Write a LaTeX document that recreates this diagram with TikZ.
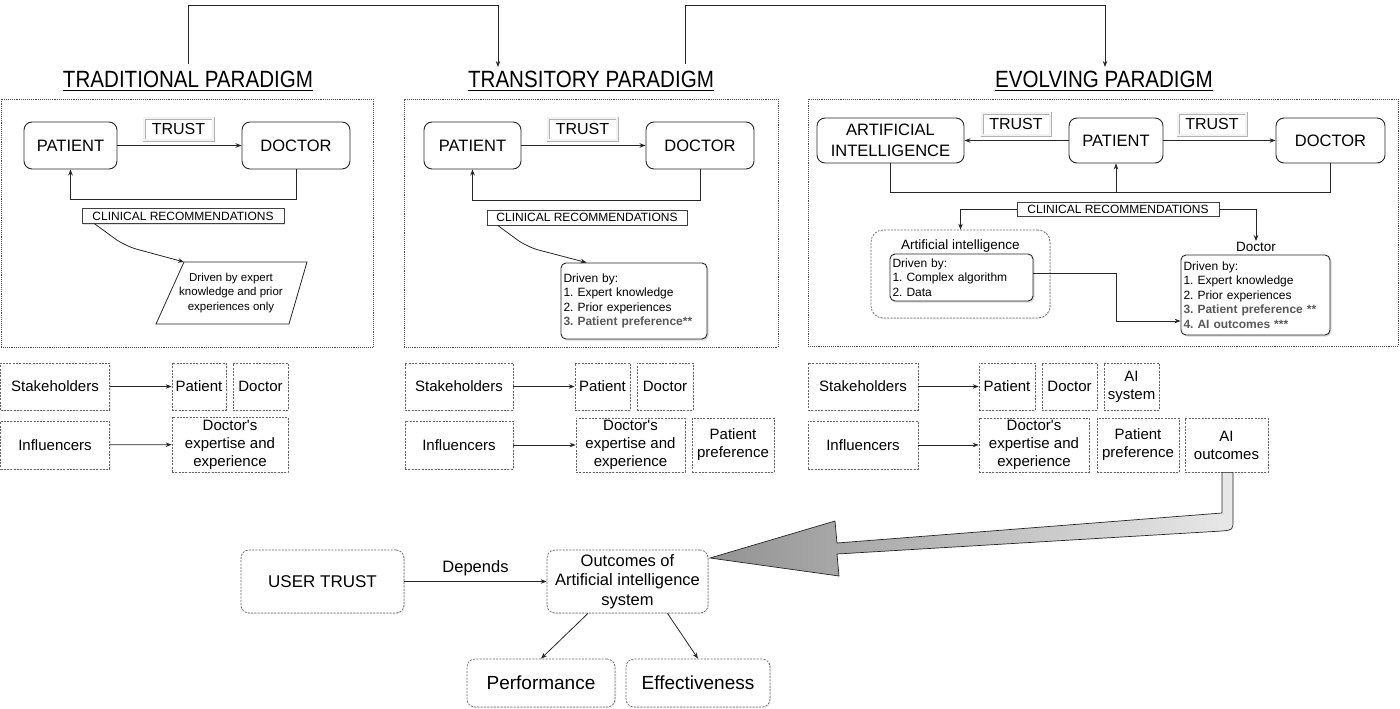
\documentclass[tikz,border=0pt]{standalone}
\usepackage{fontspec}
\setmainfont{Liberation Sans}
\usetikzlibrary{arrows.meta,shadows,calc,shapes.geometric}
\frenchspacing
\newcommand{\apos}{\textquotesingle}
\begin{document}
\begin{tikzpicture}[x=1pt,y=-1pt,
  frame/.style={draw=black!70, densely dotted, line width=0.9pt, inner sep=0pt},
  rbox/.style={draw=black!85, line width=0.9pt, rounded corners=8pt, fill=white, inner sep=0pt, font=\fontsize{16.5}{19}\selectfont, align=center},
  trustbox/.style={draw=gray!60, double=gray!10, double distance=1.2pt, line width=0.9pt, fill=white, inner sep=0pt, font=\fontsize{16}{18}\selectfont, minimum width=68pt, minimum height=22pt},
  crbox/.style={draw=black!75, line width=0.7pt, fill=white, inner sep=0pt, font=\fontsize{12}{14}\selectfont, minimum height=15pt, drop shadow={shadow xshift=1pt, shadow yshift=-1pt, opacity=0.25}},
  dbox/.style={draw=black!60, dash pattern=on 2pt off 1.3pt, line width=0.7pt, inner sep=0pt, fill=white, font=\fontsize{15}{18}\selectfont, align=center, minimum height=47pt, drop shadow={shadow xshift=1pt, shadow yshift=-1pt, opacity=0.18}},
  dround/.style={dbox, rounded corners=8pt},
  drvbox/.style={draw=black!85, line width=0.9pt, rounded corners=5pt, fill=white, inner xsep=2.5pt, inner ysep=0pt, align=left, font=\fontsize{12}{14.5}\selectfont, drop shadow={shadow xshift=1.5pt, shadow yshift=-1.5pt, opacity=0.3}},
  conn/.style={draw=black!85, line width=0.8pt, -{Stealth[length=6pt,width=4.5pt]}},
  plain/.style={draw=black!85, line width=0.8pt},
  title/.style={inner sep=0pt, font=\fontsize{21}{24}\selectfont},
  lab/.style={inner sep=1pt, font=\fontsize{13.5}{16}\selectfont}
]
\useasboundingbox (0,0) rectangle (1400,709);

% ---------- titles and top connectors ----------
\node[title, anchor=base] (t1) at (188,88) {\scalebox{0.98}[1.12]{\underline{TRADITIONAL PARADIGM}}};
\node[title, anchor=base] (t2) at (591,88) {\scalebox{0.98}[1.12]{\underline{TRANSITORY PARADIGM}}};
\node[title, anchor=base] (t3) at (1104,88) {\scalebox{0.98}[1.12]{\underline{EVOLVING PARADIGM}}};
\coordinate (a1) at (188,64);
\coordinate (a2) at (498,67);
\coordinate (a3) at (685,64);
\coordinate (a4) at (1105,67);
\draw[conn] (a1) -- ++(0,-59) -| (a2);
\draw[conn] (a3) -- ++(0,-59) -| (a4);

% ---------- frames ----------
\node[frame, minimum width=372pt, minimum height=248pt] (f1) at (187,223) {};
\node[frame, minimum width=374pt, minimum height=248pt] (f2) at (591,223) {};
\node[frame, minimum width=590pt, minimum height=247pt] (f3) at (1103,222.5) {};

% ---------- panel 1 ----------
\node[rbox, minimum width=93pt, minimum height=47pt] (p1pat) at (70.5,145.5) {PATIENT};
\node[rbox, minimum width=108pt, minimum height=47pt] (p1doc) at (296,145.5) {DOCTOR};
\node[trustbox, minimum width=69pt] (p1trust) at (178.5,129) {TRUST};
\draw[conn] (p1pat) -- (p1doc);
\draw[conn] (p1doc.south) -- ++(0,30) -| (p1pat.south);
\node[crbox, minimum width=202pt] (p1cr) at (183,216) {CLINICAL RECOMMENDATIONS};
\coordinate (p1tl) at (184,262);
\draw[plain, fill=white] (p1tl) -- (307,262) -- (289,324) -- (156,324) -- cycle;
\node[align=center, inner sep=0pt, font=\fontsize{11.5}{14.5}\selectfont] (p1drv) at (231,293) {Driven by expert\\knowledge and prior\\experiences only};
\draw[conn, rounded corners=12pt] ($(p1cr.south west)+(13,0)$) -- (125,246) -- (p1tl);

% ---------- panel 2 ----------
\node[rbox, minimum width=97pt, minimum height=47pt] (p2pat) at (472.5,145.5) {PATIENT};
\node[rbox, minimum width=108pt, minimum height=47pt] (p2doc) at (700,145.5) {DOCTOR};
\node[trustbox, minimum width=69pt] (p2trust) at (582.5,129) {TRUST};
\draw[conn] (p2pat) -- (p2doc);
\draw[conn] (p2doc.south) -- ++(0,31) -| (p2pat.south);
\node[crbox, minimum width=200pt] (p2cr) at (587,217.5) {CLINICAL RECOMMENDATIONS};
\node[drvbox, text width=141pt, minimum height=76pt] (p2drv) at (634,301) {Driven by:\\1. Expert knowledge\\2. Prior experiences\\\textcolor{black!65}{\bfseries 3. Patient preference**}};
\draw[conn, rounded corners=12pt] ($(p2cr.south west)+(11,0)$) -- (527,247) -- ($(p2drv.north west)+(26,0)$);

% ---------- panel 3 ----------
\node[rbox, minimum width=147pt, minimum height=45pt, font=\fontsize{16.5}{21}\selectfont] (p3ai) at (890.5,140.5) {ARTIFICIAL\\INTELLIGENCE};
\node[rbox, minimum width=94pt, minimum height=45pt] (p3pat) at (1116,140.5) {PATIENT};
\node[rbox, minimum width=109pt, minimum height=45pt] (p3doc) at (1330.5,140.5) {DOCTOR};
\node[trustbox] (p3trustL) at (1016,124) {TRUST};
\node[trustbox] (p3trustR) at (1212,124) {TRUST};
\draw[conn] (p3pat) -- (p3ai);
\draw[conn] (p3pat) -- (p3doc);
\coordinate (fb3) at (0,192);
\draw[plain] (p3ai.south) |- (p3doc.south |- fb3) -- (p3doc.south);
\draw[conn] (p3pat.south |- fb3) -- (p3pat.south);
\node[crbox, minimum width=202pt, minimum height=14pt] (p3cr) at (1118,209) {CLINICAL RECOMMENDATIONS};
\node[dround, minimum width=179pt, minimum height=88pt, rounded corners=12pt] (p3aic) at (960.5,274) {};
\node[lab] (p3ailab) at (960.5,246) {Artificial intelligence};
\node[drvbox, text width=138pt, minimum height=47pt] (p3aidrv) at (961.5,277.5) {Driven by:\\1. Complex algorithm\\2. Data};
\node[lab] (p3doclab) at (1256,247) {Doctor};
\node[drvbox, text width=144pt, minimum height=80pt] (p3docdrv) at (1255.5,295) {Driven by:\\1. Expert knowledge\\2. Prior experiences\\\textcolor{black!65}{\bfseries 3. Patient preference **}\\\textcolor{black!65}{\bfseries 4. AI outcomes ***}};
\draw[conn] (p3cr.west) -| (p3aic.north);
\draw[conn] (p3cr.east) -| (p3doclab.north);
\coordinate (k1) at (1116,321);
\draw[conn] ($(p3aidrv.east)+(0,-4)$) -| (k1) -- (k1 -| p3docdrv.west);

% ---------- stakeholder / influencer rows ----------
\node[dbox, minimum width=109pt] (s1) at (55,386.5) {Stakeholders};
\node[dbox, minimum width=54pt] (s1pat) at (199,386.5) {Patient};
\node[dbox, minimum width=55pt] (s1doc) at (260.5,386.5) {Doctor};
\node[dbox, minimum width=109pt, minimum height=48pt] (i1) at (55,445) {Influencers};
\node[dbox, minimum width=116pt, minimum height=55pt] (i1exp) at (230,444.5) {Doctor\apos s\\expertise and\\experience};
\draw[conn] (s1) -- (s1pat);
\draw[conn] (i1) -- (i1exp);

\node[dbox, minimum width=108pt] (s2) at (459,386.5) {Stakeholders};
\node[dbox, minimum width=55pt] (s2pat) at (602.5,386.5) {Patient};
\node[dbox, minimum width=56pt] (s2doc) at (665,386.5) {Doctor};
\node[dbox, minimum width=108pt, minimum height=48pt] (i2) at (459,445) {Influencers};
\node[dbox, minimum width=109pt, minimum height=54pt] (i2exp) at (630.5,445) {Doctor\apos s\\expertise and\\experience};
\node[dbox, minimum width=82pt, minimum height=54pt] (i2pp) at (733,445) {Patient\\preference};
\draw[conn] (s2) -- (s2pat);
\draw[conn] (i2) -- (i2exp);

\node[dbox, minimum width=110pt] (s3) at (863,386.5) {Stakeholders};
\node[dbox, minimum width=56pt] (s3pat) at (1007,386.5) {Patient};
\node[dbox, minimum width=55pt] (s3doc) at (1069.5,386.5) {Doctor};
\node[dbox, minimum width=55pt] (s3ai) at (1131.5,386.5) {AI\\system};
\node[dbox, minimum width=110pt, minimum height=48pt] (i3) at (863,445) {Influencers};
\node[dbox, minimum width=110pt, minimum height=54pt] (i3exp) at (1034,445) {Doctor\apos s\\expertise and\\experience};
\node[dbox, minimum width=82pt, minimum height=54pt] (i3pp) at (1138,445) {Patient\\preference};
\node[dbox, minimum width=83pt, minimum height=54pt] (i3ai) at (1226.5,445) {AI\\outcomes};
\draw[conn] (s3) -- (s3pat);
\draw[conn] (i3) -- (i3exp);

% ---------- bottom ----------
\node[dround, minimum width=163pt, minimum height=63pt, font=\fontsize{17}{20}\selectfont] (ut) at (322.5,581.5) {USER TRUST};
\node[dround, minimum width=161pt, minimum height=63pt, font=\fontsize{16.5}{19.5}\selectfont] (out) at (627.5,581.5) {Outcomes of\\Artificial intelligence\\system};
\node[dround, minimum width=148pt, minimum height=48pt, font=\fontsize{19}{22}\selectfont] (perf) at (541,683) {Performance};
\node[dround, minimum width=144pt, minimum height=48pt, font=\fontsize{19}{22}\selectfont] (eff) at (698,683) {Effectiveness};
\draw[conn] (ut) -- node[above=5pt, inner sep=0pt, font=\fontsize{16.5}{19}\selectfont] (dep) {Depends} (out);
\draw[conn] ($(out.south)+(-39.5,0)$) -- (perf.north);
\draw[conn] ($(out.south)+(40,0)$) -- (eff.north);

% ---------- big arrow ----------
\coordinate (bs) at (i3ai.south);
\coordinate (bt) at (710,558);
\path[draw=black!85, line width=0.7pt, left color=gray!85, right color=gray!18]
  ($(bs)+(-4.5,0)$) -- (1222,513) -- (837,543) -- (835,521) -- (bt) -- (839,576) -- (837,554)
  -- (1222,531) .. controls (1233,530) .. (1233,519) -- ($(bs)+(6.5,0)$) -- cycle;
\end{tikzpicture}
\end{document}
